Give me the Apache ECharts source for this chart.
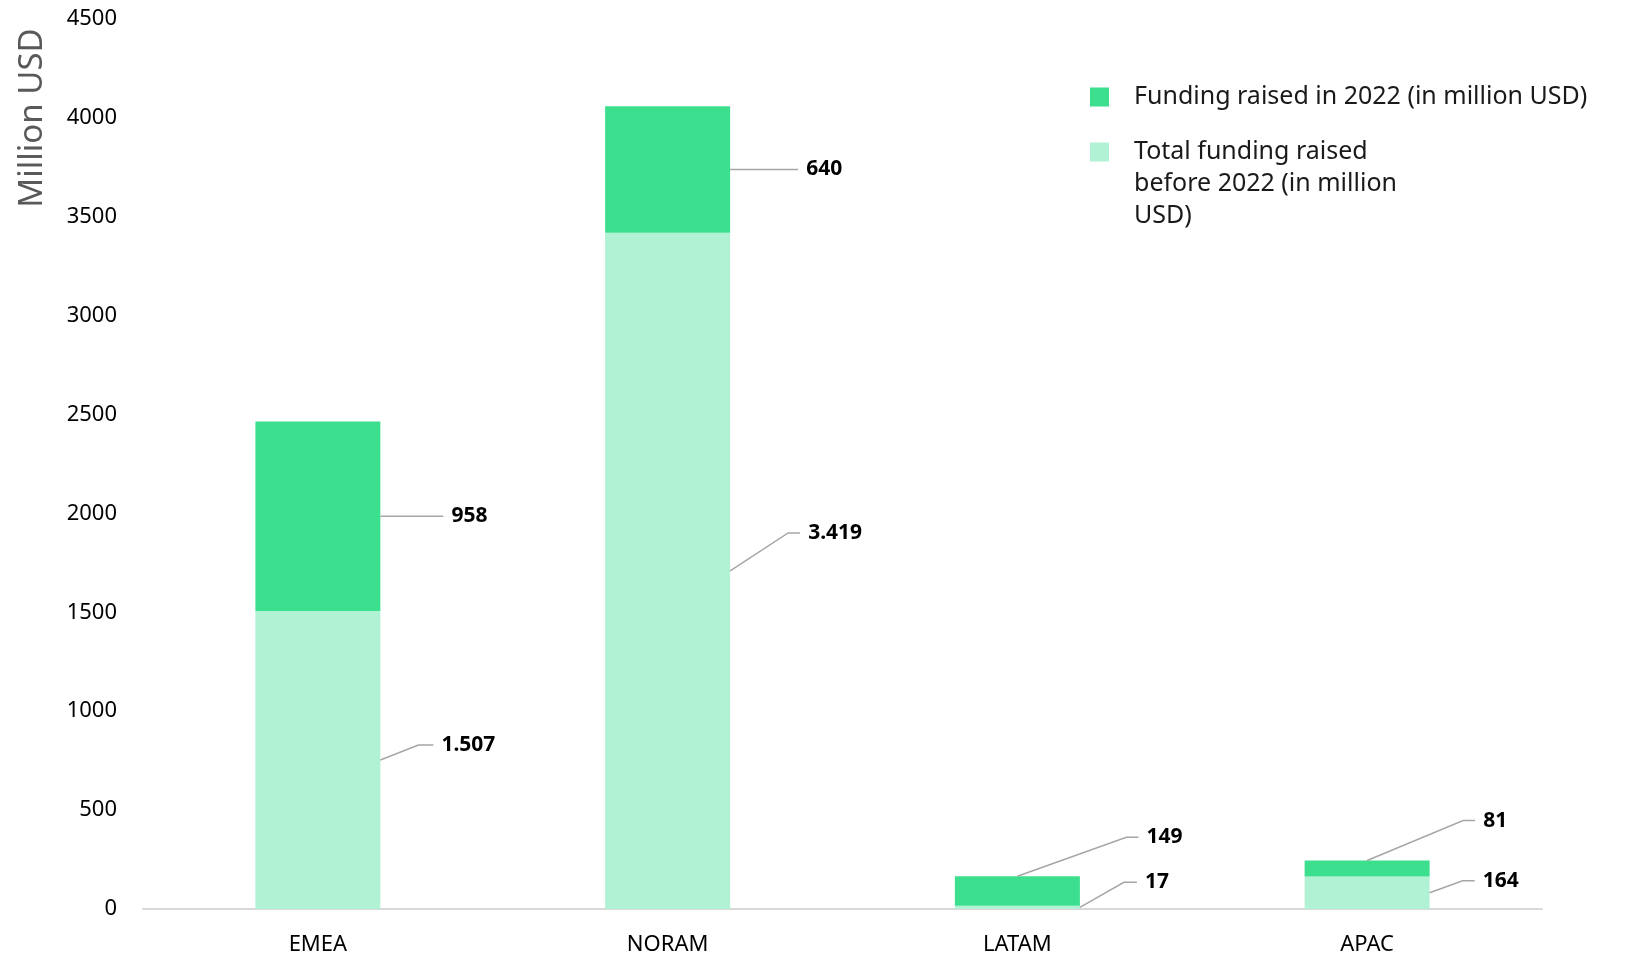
<!DOCTYPE html>
<html>
<head>
<meta charset="utf-8">
<script src="https://cdn.jsdelivr.net/npm/echarts@6/dist/echarts.min.js"></script>
<style>
html,body{margin:0;padding:0;background:#fff;}
#chart{width:1626px;height:956px;}
</style>
</head>
<body>
<div id="chart"></div>
<script>
// ---- data ----
const categories = ['EMEA', 'NORAM', 'LATAM', 'APAC'];
const before2022 = [1507, 3419, 17, 164];
const in2022 = [958, 640, 149, 81];
const seriesNames = ['Funding raised in 2022 (in million USD)', 'Total funding raised\nbefore 2022 (in million\nUSD)'];
const yMin = 0, yMax = 4500, yInterval = 500;

// ---- styling / layout ----
const DARK = '#3CDF8E';
const LIGHT = '#B1F2D4';
const BAR_W = 125;
const FONT = '"Noto Sans", "Open Sans", sans-serif';
// label leader layout per stack level (0 = before2022, 1 = in2022), per category
const annoLayout = [
  [ {anchor:'side', dx:38, dy:-15, h:15}, {anchor:'side', dx:58, dy:-38, h:12}, {anchor:'side', dx:44, dy:-25, h:13}, {anchor:'side', dx:33, dy:-12, h:12} ],
  [ {anchor:'side', dx:63, dy:0, h:0},   {anchor:'side', dx:68, dy:0, h:0},    {anchor:'top', dx:109, dy:-39, h:12}, {anchor:'top', dx:96, dy:-40, h:12} ]
];

function fmt(v) {
  return String(v).replace(/\B(?=(\d{3})+(?!\d))/g, '.');
}

const annoData = [];
categories.forEach((c, i) => {
  annoData.push([i, 0, before2022[i], 0]);
  annoData.push([i, before2022[i], in2022[i], 1]);
});

const chart = echarts.init(document.getElementById('chart'), null, {renderer: 'canvas'});
chart.setOption({
  animation: false,
  textStyle: {fontFamily: FONT},
  grid: {left: 143, right: 84, top: 19, bottom: 44, containLabel: false},
  legend: [
    {
      data: [seriesNames[0]],
      left: 1085, top: 76,
      itemWidth: 19, itemHeight: 19, icon: 'rect',
      selectedMode: false,
      textStyle: {fontSize: 25, color: '#1a1a1a', fontFamily: FONT, lineHeight: 32, padding: [0, 0, 0, 20]}
    },
    {
      data: [seriesNames[1]],
      left: 1085, top: 67,
      itemWidth: 19, itemHeight: 19, icon: 'rect',
      selectedMode: false,
      formatter: function (name) { return '\n\n' + name; },
      textStyle: {fontSize: 25, color: '#1a1a1a', fontFamily: FONT, lineHeight: 32, padding: [0, 0, 0, 20]}
    }
  ],
  graphic: [{
    type: 'text', x: 33, y: 118, rotation: Math.PI / 2,
    style: {text: 'Million USD', fill: '#595959', font: '33px ' + FONT, align: 'center', verticalAlign: 'middle'}
  }],
  xAxis: {
    type: 'category', data: categories,
    axisLine: {lineStyle: {color: '#d9d9d9', width: 2}},
    axisTick: {show: false},
    axisLabel: {color: '#000', fontSize: 22, margin: 25, fontFamily: FONT}
  },
  yAxis: {
    type: 'value', min: yMin, max: yMax, interval: yInterval,
    axisLine: {show: false}, axisTick: {show: false},
    splitLine: {show: false},
    axisLabel: {color: '#000', fontSize: 22, margin: 26, fontFamily: FONT, formatter: function (v) { return String(v); }}
  },
  series: [
    {
      name: seriesNames[1], type: 'bar', stack: 'total', data: before2022,
      barWidth: BAR_W, itemStyle: {color: LIGHT}, silent: true
    },
    {
      name: seriesNames[0], type: 'bar', stack: 'total', data: in2022,
      barWidth: BAR_W, itemStyle: {color: DARK}, silent: true
    },
    {
      type: 'custom', data: annoData, silent: true, clip: false, z: 10,
      encode: {x: 0, y: 1},
      renderItem: function (params, api) {
        const cat = api.value(0), base = api.value(1), val = api.value(2), lvl = api.value(3);
        const cfg = annoLayout[lvl][cat];
        let p;
        if (cfg.anchor === 'side') {
          const c = api.coord([cat, base + val / 2]);
          p = [c[0] + BAR_W / 2, c[1]];
        } else {
          const t = api.coord([cat, base + val]);
          p = [t[0], t[1]];
        }
        const e = [p[0] + cfg.dx, p[1] + cfg.dy];
        const f = [e[0] + cfg.h, e[1]];
        return {
          type: 'group',
          children: [
            {type: 'polyline', shape: {points: [p, e, f]}, style: {stroke: '#a6a6a6', lineWidth: 1.5, fill: null}},
            {type: 'text', x: f[0] + 8, y: f[1], style: {text: fmt(val), font: 'bold 21px ' + FONT, fill: '#000', align: 'left', verticalAlign: 'middle'}}
          ]
        };
      }
    }
  ]
});
</script>
</body>
</html>
